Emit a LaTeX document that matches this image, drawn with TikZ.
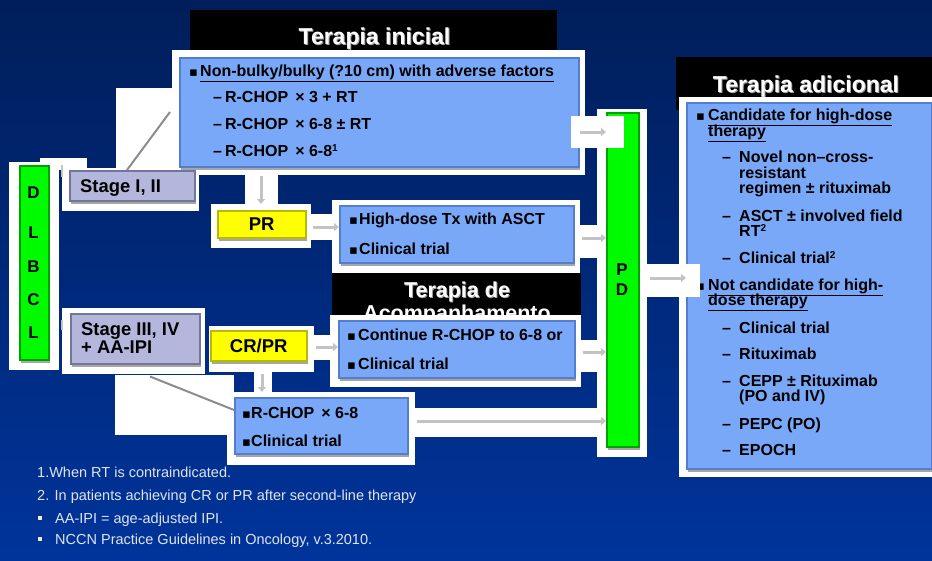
\documentclass[tikz,border=0pt]{standalone}
\usepackage{fontspec}
\setmainfont{Liberation Sans}
\newfontfamily\symf{DejaVu Sans}
\usetikzlibrary{shadows,arrows.meta}
\newcommand\supnum[1]{\raisebox{4.5pt}{\fontsize{10}{10}\selectfont #1}}
\definecolor{bgtop}{RGB}{0,30,90}
\definecolor{bgbot}{RGB}{0,52,155}
\definecolor{boxblue}{RGB}{122,168,248}
\definecolor{boxedge}{RGB}{85,125,205}
\definecolor{stagefill}{RGB}{180,182,220}
\definecolor{stageedge}{RGB}{115,118,155}
\definecolor{yel}{RGB}{255,255,0}
\definecolor{yeledge}{RGB}{185,185,0}
\definecolor{grn}{RGB}{0,250,0}
\definecolor{grnedge}{RGB}{0,160,0}
\definecolor{arrowgray}{RGB}{195,195,195}
\definecolor{diaggray}{RGB}{140,140,140}
\definecolor{foot}{RGB}{225,228,240}
\definecolor{footbullet}{RGB}{240,240,190}
\begin{document}
\begin{tikzpicture}[x=1pt,y=-1pt,
  shad/.style={drop shadow={shadow xshift=1pt,shadow yshift=-3pt,fill=gray!70,opacity=1}},
  bluebox/.style={rectangle,fill=boxblue,draw=boxedge,line width=1.5pt,anchor=north west,inner sep=0pt,shad},
  stagebox/.style={rectangle,fill=stagefill,draw=stageedge,line width=1.5pt,anchor=north west,inner sep=0pt,shad},
  yelbox/.style={rectangle,fill=yel,draw=yeledge,line width=1.5pt,anchor=north west,inner sep=0pt,shad,font=\fontsize{18.5}{20}\selectfont\bfseries},
  grnbox/.style={rectangle,fill=grn,draw=grnedge,line width=1.5pt,anchor=north west,inner sep=0pt,shad},
  blackbox/.style={rectangle,fill=black,draw=none,anchor=north west,inner sep=0pt},
  tb/.style={anchor=base west,inner sep=0pt,font=\fontsize{16}{18}\selectfont\bfseries},
  bul/.style={anchor=base west,inner sep=0pt,font=\symf\fontsize{13}{14}\selectfont},
  st/.style={anchor=base west,inner sep=0pt,font=\fontsize{18.4}{20}\selectfont\bfseries},
  let/.style={anchor=base,inner sep=0pt,font=\fontsize{17}{18}\selectfont\bfseries},
  ttl/.style={anchor=base,inner sep=0pt,font=\fontsize{23}{25}\selectfont\bfseries,text=white},
  ttlsh/.style={ttl,text=gray!75},
  ft/.style={anchor=base west,inner sep=0pt,font=\fontsize{14.5}{16}\selectfont,text=foot},
  arr/.style={draw=arrowgray,line width=3pt,-{Triangle[length=5pt,width=8pt]}},
  diag/.style={draw=diaggray,line width=2pt},
  stub/.style={draw=arrowgray,line width=2pt},
]
% background
\shade[top color=bgtop,bottom color=bgbot] (0,0) rectangle (932,560);
\useasboundingbox (0,0) rectangle (932,560);

% title boxes
\node[blackbox,minimum width=367,minimum height=47] (tinit) at (190,10) {};
\node[blackbox,minimum width=256,minimum height=53] (tadic) at (676,57) {};
\node[ttlsh] (tinitS) at (375.5,45) {Terapia inicial};
\node[ttl] (tinitT) at (374.5,44) {Terapia inicial};
\node[ttlsh] (tadicS) at (807,93) {Terapia adicional};
\node[ttl] (tadicT) at (806,92) {Terapia adicional};

% white backings
\fill[white] (172,50) rectangle (585,175);
\fill[white] (116,88) rectangle (172,175);
\fill[white] (40,158) rectangle (87,170);
\fill[white] (9,162) rectangle (59,370);
\fill[white] (62,168) rectangle (199,211);
\fill[white] (245,175) rectangle (278,204);
\fill[white] (211,204) rectangle (311,248);
\fill[white] (311,214) rectangle (333,240);
\fill[white] (332,200) rectangle (580,273);
\fill[white] (573,225) rectangle (598,258);
\fill[white] (62,308) rectangle (205,374);
\fill[white] (209,326) rectangle (314,372);
\fill[white] (314,335) rectangle (332,360);
\fill[white] (573,340) rectangle (598,372);
\fill[white] (115,375) rectangle (234,435);
\fill[white] (254,372) rectangle (272,392);
\fill[white] (227,392) rectangle (415,465);
\fill[white] (415,408) rectangle (598,437);
\fill[white] (597,109) rectangle (647,457);
\fill[white] (679,97) rectangle (932,477);

% Terapia de Acompanhamento (partly hidden)
\node[blackbox,minimum width=249,minimum height=47] (tacomp) at (332,273) {};
\node[ttlsh,font=\fontsize{21.5}{23}\selectfont\bfseries] (tdeS) at (458,298) {Terapia de};
\node[ttl,font=\fontsize{21.5}{23}\selectfont\bfseries] (tde) at (457,297) {Terapia de};
\node[ttl,font=\fontsize{21.5}{23}\selectfont\bfseries] (tacT) at (457,320) {Acompanhamento};
\fill[white] (330,315) rectangle (581,387);

% boxes
\node[bluebox,minimum width=399,minimum height=109] (topbox) at (179,57) {};
\node[stagebox,minimum width=125,minimum height=30] (stage12) at (69,170) {};
\node[stagebox,minimum width=129,minimum height=50] (stage34) at (70,313) {};
\node[grnbox,minimum width=29,minimum height=194] (dlbcl) at (19,165) {};
\node[yelbox,minimum width=88,minimum height=27] (pr) at (217,210) {PR};
\node[yelbox,minimum width=96,minimum height=30] (crpr) at (210,330) {CR/PR};
\node[bluebox,minimum width=234,minimum height=57] (highdose) at (339,205) {};
\node[bluebox,minimum width=236,minimum height=57] (cont) at (338,320) {};
\node[bluebox,minimum width=173,minimum height=56] (rchop) at (234,397) {};
\node[grnbox,minimum width=32,minimum height=334] (pd) at (606,112) {};
\node[bluebox,minimum width=245,minimum height=366] (adic) at (686,102) {};

% overlapping white backings of arrows
\fill[white] (571,116) rectangle (624,148);

% top box text
\node[bul] (b1) at (189,76) {▪};
\node[tb] (t1) at (200,76) {\underline{Non-bulky/bulky (?10 cm) with adverse factors}};
\node[tb] (t2) at (213,102) {–\hspace{3pt}R-CHOP \,× 3 + RT};
\node[tb] (t3) at (213,129) {–\hspace{3pt}R-CHOP \,× 6-8 ± RT};
\node[tb] (t4) at (213,156) {–\hspace{3pt}R-CHOP \,× 6-8\supnum{1}};

% stage text
\node[st] (s12) at (80,192) {Stage I, II};
\node[st] (s34a) at (81,335) {Stage III, IV};
\node[st] (s34b) at (81,353) {+ AA-IPI};

% DLBCL
\node[let] (l1) at (33.5,198) {D};
\node[let] (l2) at (33.5,238) {L};
\node[let] (l3) at (33.5,272) {B};
\node[let] (l4) at (33.5,305) {C};
\node[let] (l5) at (33.5,338) {L};
\node[let] (p1) at (622,275) {P};
\node[let] (p2) at (622,295) {D};

% high-dose box
\node[bul] (b2) at (349,224) {▪};
\node[tb] (t5) at (359,224) {High-dose Tx with ASCT};
\node[bul] (b3) at (349,254) {▪};
\node[tb] (t6) at (359,254) {Clinical trial};
% continue box
\node[bul] (b4) at (347,340) {▪};
\node[tb] (t7) at (358,340) {Continue R-CHOP to 6-8 or};
\node[bul] (b5) at (347,369) {▪};
\node[tb] (t8) at (358,369) {Clinical trial};
% rchop box
\node[bul] (b6) at (242,418) {▪};
\node[tb] (t9) at (251,418) {R-CHOP \,× 6-8};
\node[bul] (b7) at (242,446) {▪};
\node[tb] (t10) at (251,446) {Clinical trial};

% right box
\node[bul] (r0) at (696,120) {▪};
\node[tb] (r1) at (708,120) {\underline{Candidate for high-dose}};
\node[tb] (r2) at (708,136) {\underline{therapy}};
\node[tb] (r3d) at (722,162) {–};
\node[tb] (r3) at (739,162) {Novel non–cross-};
\node[tb] (r4) at (739,178) {resistant};
\node[tb] (r5) at (739,193) {regimen ± rituximab};
\node[tb] (r6d) at (722,221) {–};
\node[tb] (r6) at (739,221) {ASCT ± involved field};
\node[tb] (r7) at (739,236) {RT\supnum{2}};
\node[tb] (r8d) at (722,263) {–};
\node[tb] (r8) at (739,263) {Clinical trial\supnum{2}};
\node[bul] (r9b) at (696,290) {▪};
\node[tb] (r9) at (708,290) {\underline{Not candidate for high-}};
\node[tb] (r10) at (708,305) {\underline{dose therapy}};
\node[tb] (r11d) at (722,333) {–};
\node[tb] (r11) at (739,333) {Clinical trial};
\node[tb] (r12d) at (722,359) {–};
\node[tb] (r12) at (739,359) {Rituximab};
\node[tb] (r13d) at (722,386) {–};
\node[tb] (r13) at (739,386) {CEPP ± Rituximab};
\node[tb] (r14) at (739,401) {(PO and IV)};
\node[tb] (r15d) at (722,429) {–};
\node[tb] (r15) at (739,429) {PEPC (PO)};
\node[tb] (r16d) at (722,455) {–};
\node[tb] (r16) at (739,455) {EPOCH};

\fill[white] (647,264) rectangle (700,297);

% connectors
\coordinate (d1end) at (170,112);
\draw[diag] (stage12.north -| 127,0) -- (d1end);
\draw[diag] (stage34.south -| 150,0) ++(0,12) -- (rchop.west |- 0,410);
\draw[stub] (dlbcl.east |- 0,165) ++(12,0) -- ++(0,12);
\draw[stub] (dlbcl.east |- 0,320) ++(12,0) -- ++(0,10);
\draw[arr] (topbox.east |- 0,132) ++(0,0) -- (pd.west |- 0,132);
\draw[arr,shorten <=8pt,shorten >=6pt] (topbox.south -| 261,0) -- (pr.north -| 261,0);
\draw[arr] (pr.east |- 0,227) ++(6,0) -- (highdose.west |- 0,227);
\draw[arr] (highdose.east |- 0,238) ++(7,0) -- (pd.west |- 0,238);
\draw[arr] (crpr.east |- 0,347) ++(8,0) -- (cont.west |- 0,347);
\draw[arr] (cont.east |- 0,352) ++(7,0) -- (pd.west |- 0,352);
\draw[arr,shorten <=12pt,shorten >=5pt] (crpr.south -| 262,0) -- (rchop.north -| 262,0);
\draw[arr] (rchop.east |- 0,421) ++(8,0) -- (pd.west |- 0,421);
\draw[arr] (pd.east |- 0,278) ++(10,0) -- (adic.west |- 0,278);

% footnotes
\node[ft] (f1) at (37,477) {1.When RT is contraindicated.};
\node[ft] (f2) at (37,500) {2. In patients achieving CR or PR after second-line therapy};
\node[fill=footbullet,minimum size=4.5pt,inner sep=0pt] (fb1) at (40,518) {};
\node[ft] (f3) at (55,523) {AA-IPI = age-adjusted IPI.};
\node[fill=footbullet,minimum size=4.5pt,inner sep=0pt] (fb2) at (40,539) {};
\node[ft] (f4) at (55,544) {NCCN Practice Guidelines in Oncology, v.3.2010.};
\end{tikzpicture}
\end{document}
